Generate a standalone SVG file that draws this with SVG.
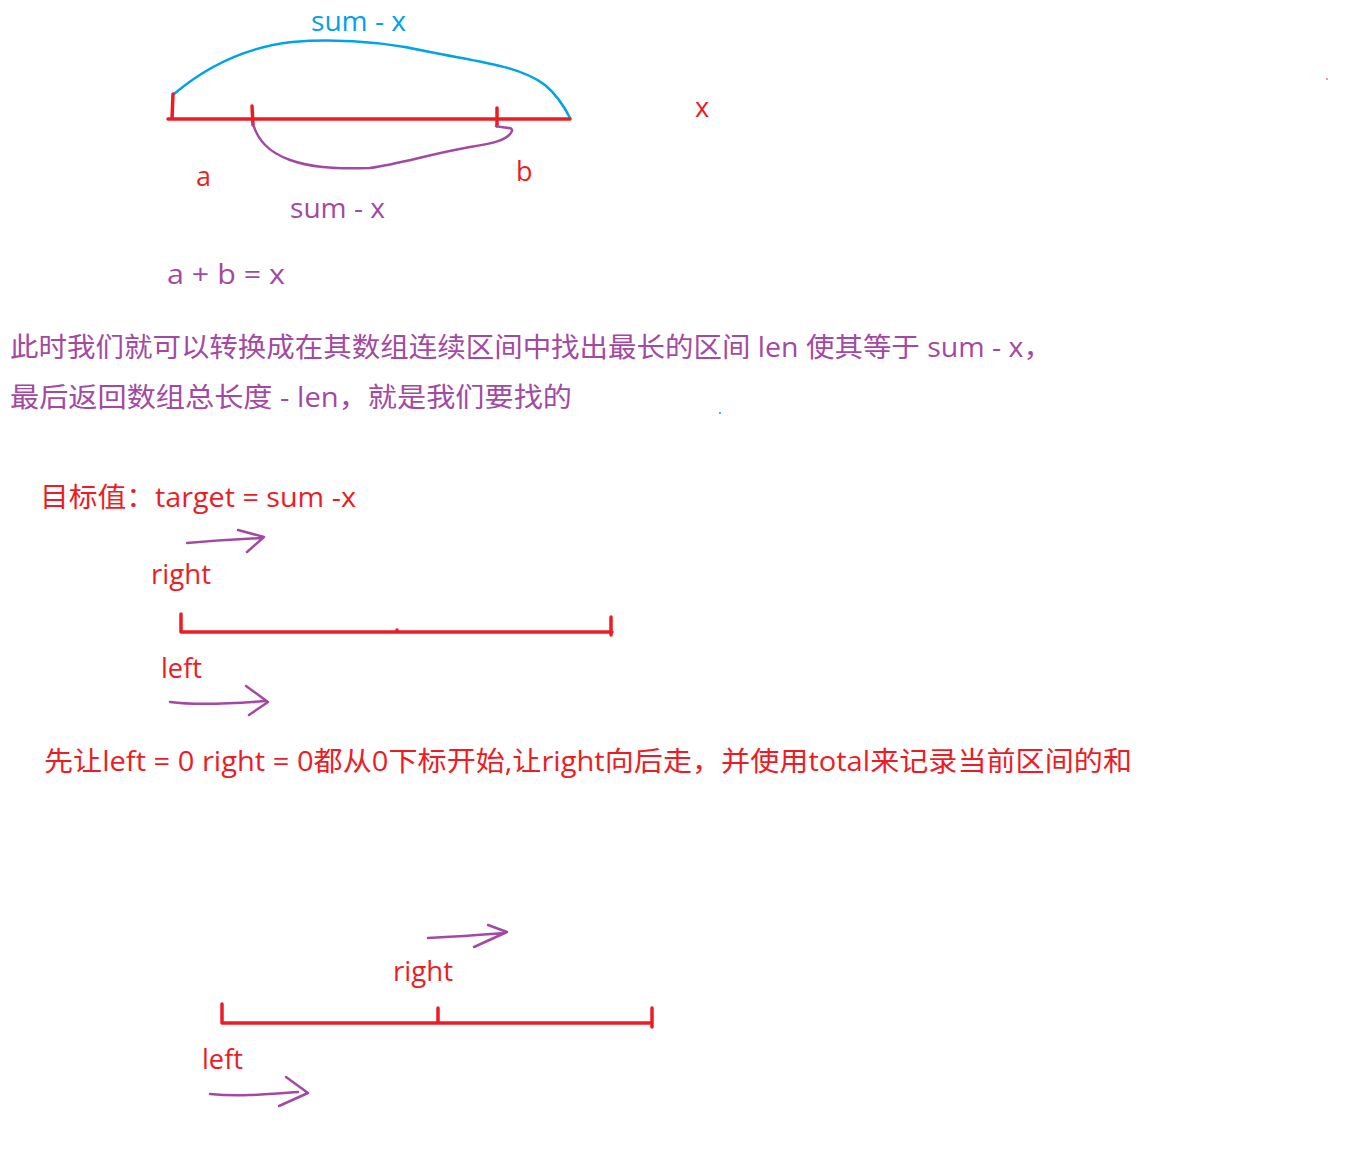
<svg xmlns="http://www.w3.org/2000/svg" width="1350" height="1155" viewBox="0 0 1350 1155">
<style>
text{font-family:"Open Sans","Noto Sans CJK SC",sans-serif;font-size:27px}
.r{fill:#ED1C24}.p{fill:#A349A4}.b{fill:#00A2E8}
.sr{stroke:#ED1C24;stroke-width:3.5;fill:none;stroke-linecap:round;stroke-linejoin:round}
.sp{stroke:#A349A4;stroke-width:2.5;fill:none;stroke-linecap:round;stroke-linejoin:round}
.sb{stroke:#00A2E8;stroke-width:2.5;fill:none;stroke-linecap:round;stroke-linejoin:round}
</style>
<rect width="1350" height="1155" fill="#fff"/>
<g id="top-figure">
<path class="sb" d="M174,94 C200,72 240,48 292,42 C330,39 380,41 430,52 C480,62 520,66 545,85 C558,96 565,108 570,118"/>
<path class="sr" d="M168,119 L570,119 M173,94 L172,119 M252,106 L253,125 M497,108 L497,126"/>
<path class="sp" d="M253,124 C258,140 268,152 290,160 C310,167 330,169 370,168 C400,164 430,154 470,147 C495,143 508,140 512,131 C513,126 500,128 496,126"/>
<text class="b" x="311" y="31" textLength="95" lengthAdjust="spacingAndGlyphs">sum - x</text>
<text class="r" x="695" y="117">x</text>
<text class="r" x="196" y="186">a</text>
<text class="r" x="516" y="181">b</text>
<text class="p" x="290" y="218" textLength="95" lengthAdjust="spacingAndGlyphs">sum - x</text>
<text class="p" x="167" y="284" textLength="118" lengthAdjust="spacingAndGlyphs">a + b = x</text>
</g>
<g id="explanation">
<text class="p" x="10" y="357" textLength="1042" lengthAdjust="spacingAndGlyphs">此时我们就可以转换成在其数组连续区间中找出最长的区间 len 使其等于 sum - x，</text>
<text class="p" x="10" y="407" textLength="562" lengthAdjust="spacingAndGlyphs">最后返回数组总长度 - len，就是我们要找的</text>
<circle cx="720" cy="413" r="1" fill="#00A2E8"/>
<circle cx="1327" cy="79" r="0.8" fill="#ED1C24"/>
</g>
<g id="target">
<text class="r" x="40" y="507" textLength="316" lengthAdjust="spacingAndGlyphs">目标值：target = sum -x</text>
</g>
<g id="mid-figure">
<path class="sp" d="M187,543 C210,541 240,539 262,538 M238,530 L264,537 L247,552"/>
<text class="r" x="151" y="584" textLength="60" lengthAdjust="spacingAndGlyphs">right</text>
<path class="sr" d="M181,614 L181,632 L612,632 M611,617 L611,635 M397,630 L397,631"/>
<text class="r" x="161" y="678" textLength="41" lengthAdjust="spacingAndGlyphs">left</text>
<path class="sp" d="M170,702 C200,706 240,703 265,701 M246,686 L268,702 L249,715"/>
</g>
<g id="sentence">
<text class="r" x="44" y="771" textLength="1088" lengthAdjust="spacingAndGlyphs">先让left = 0 right = 0都从0下标开始,让right向后走，并使用total来记录当前区间的和</text>
</g>
<g id="bottom-figure">
<path class="sp" d="M428,938 C450,937 480,935 505,933 M488,925 L507,932 L474,947"/>
<text class="r" x="393" y="981" textLength="60" lengthAdjust="spacingAndGlyphs">right</text>
<path class="sr" d="M222,1004 L222,1023 L652,1023 M438,1008 L438,1022 M652,1008 L652,1027"/>
<text class="r" x="202" y="1069" textLength="41" lengthAdjust="spacingAndGlyphs">left</text>
<path class="sp" d="M210,1094 C240,1097 270,1094 298,1092 M286,1077 L308,1093 L279,1106"/>
</g>
</svg>
